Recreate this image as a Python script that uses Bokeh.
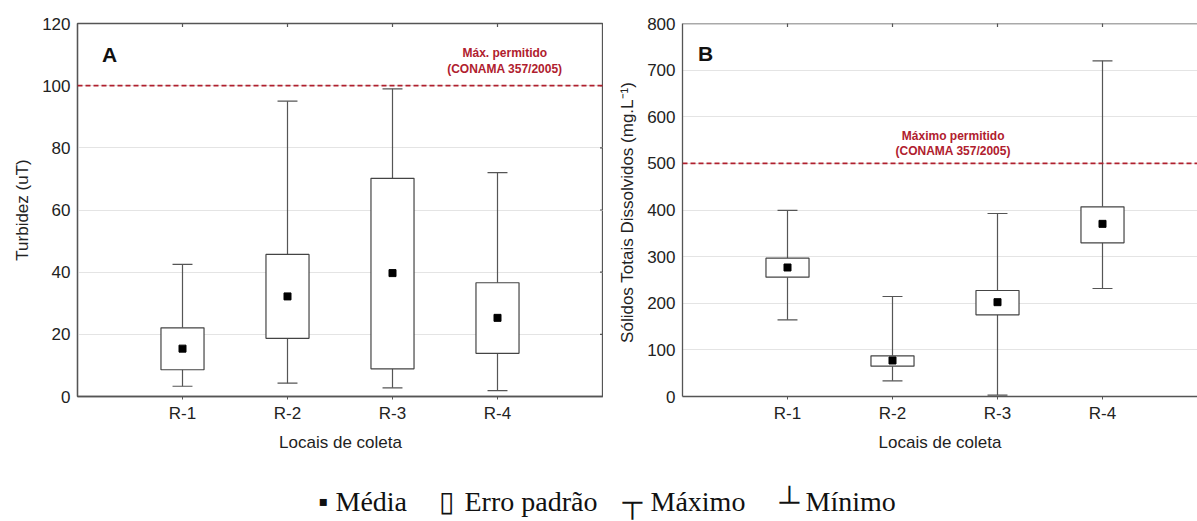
import math
from bokeh.plotting import figure
from bokeh.models import (ColumnDataSource, FixedTicker, Span, Label, Range1d)
from bokeh.layouts import column, row
from bokeh.core.properties import value
from bokeh.embed import file_html
from bokeh.resources import INLINE

# ---------------- data ----------------
sites = ["R-1", "R-2", "R-3", "R-4"]
site_pos = [1, 2, 3, 4]

turb_mean = [15.4, 32.2, 39.7, 25.3]
turb_se_low = [8.6, 18.7, 8.9, 13.9]
turb_se_high = [22.1, 45.7, 70.2, 36.6]
turb_min = [3.3, 4.3, 2.8, 1.9]
turb_max = [42.5, 95.0, 99.0, 72.0]
turb_limit = 100
turb_ticks = [0, 20, 40, 60, 80, 100, 120]

std_mean = [276.7, 77.2, 202.3, 370.3]
std_se_low = [255.9, 65.0, 175.2, 329.6]
std_se_high = [296.7, 87.2, 227.3, 406.9]
std_min = [164.5, 33.6, 3.0, 231.6]
std_max = [399.0, 214.5, 392.5, 720.0]
std_limit = 500
std_ticks = [0, 100, 200, 300, 400, 500, 600, 700, 800]

legend_symbols = ["▪", "▯", "┬", "┴"]
legend_labels = ["Média", "Erro padrão", "Máximo", "Mínimo"]

SANS = "Liberation Sans"
AXC = "#555555"
LIMC = "#b0202e"
BOXW = 0.41
CAPW = 0.19


def panel(width, height, border_left, xmax, yticks, ylabel,
          mean, lo, hi, mn, mx, limit, lim_text, lim_x, lim_y1, lim_y2,
          letter, letter_x, letter_y, outline=True):
    ymax = yticks[-1]
    p = figure(width=width, height=height, output_backend="svg", toolbar_location=None,
               x_range=Range1d(0, xmax), y_range=Range1d(0, ymax),
               min_border_left=border_left, min_border_right=0,
               min_border_top=23, min_border_bottom=64)
    p.background_fill_color = "white"
    p.border_fill_color = "white"
    p.outline_line_color = AXC if outline else None
    p.outline_line_width = 1.3
    p.xgrid.grid_line_color = None
    p.ygrid.grid_line_color = "#e4e4e4"
    p.ygrid.grid_line_width = 1

    # axes
    p.xaxis.ticker = FixedTicker(ticks=site_pos)
    p.xaxis.major_label_overrides = {pos: s for pos, s in zip(site_pos, sites)}
    p.yaxis.ticker = FixedTicker(ticks=yticks)
    for ax in (p.xaxis[0], p.yaxis[0]):
        ax.axis_line_color = AXC
        ax.axis_line_width = 1.3
        ax.major_tick_line_color = AXC
        ax.minor_tick_line_color = None
        ax.major_label_text_font = SANS
        ax.major_label_text_font_size = "17px"
        ax.major_label_text_color = "#222222"
        ax.axis_label_text_font = SANS
        ax.axis_label_text_font_size = "17px"
        ax.axis_label_text_font_style = "normal"
        ax.axis_label_text_color = "#222222"
    p.xaxis.major_tick_out = 3
    p.xaxis.major_tick_in = 0
    p.xaxis.major_label_standoff = 4
    p.xaxis.axis_label = "Locais de coleta"
    p.xaxis.axis_label_standoff = 7
    p.yaxis.major_tick_out = 0
    p.yaxis.major_tick_in = 0
    p.yaxis.major_label_standoff = 7
    p.yaxis.axis_label = ylabel
    p.yaxis.axis_label_standoff = 7

    # small inner ticks on the top edge (at the sites)
    p.scatter(x=site_pos, y=[ymax] * len(site_pos), marker="dash", angle=math.pi / 2,
              size=7, line_color=AXC, line_width=1.2)
    if outline:
        # small inner ticks on the right edge
        p.scatter(x=[xmax] * len(yticks), y=yticks, marker="dash",
                  size=7, line_color=AXC, line_width=1.2)
    else:
        p.add_layout(Span(location=ymax, dimension="width", line_color=AXC, line_width=1.3))

    # limit line
    p.add_layout(Span(location=limit, dimension="width", line_color=LIMC,
                      line_width=1.6, line_dash="5 3"))
    p.add_layout(Label(x=lim_x, y=lim_y1, text=lim_text[0], text_align="center",
                       text_baseline="middle", text_font=SANS, text_font_size="12px",
                       text_font_style="bold", text_color=LIMC))
    p.add_layout(Label(x=lim_x, y=lim_y2, text=lim_text[1], text_align="center",
                       text_baseline="middle", text_font=SANS, text_font_size="12px",
                       text_font_style="bold", text_color=LIMC))
    p.add_layout(Label(x=letter_x, y=letter_y, text=letter, text_align="center",
                       text_baseline="middle", text_font=SANS, text_font_size="21px",
                       text_font_style="bold", text_color="#111111"))

    src = ColumnDataSource(dict(x=site_pos, mean=mean, lo=lo, hi=hi, mn=mn, mx=mx,
                                xl=[x - CAPW / 2 for x in site_pos],
                                xr=[x + CAPW / 2 for x in site_pos]))
    # whiskers
    p.segment(x0="x", y0="hi", x1="x", y1="mx", source=src, line_color="#555555", line_width=1.2)
    p.segment(x0="x", y0="lo", x1="x", y1="mn", source=src, line_color="#555555", line_width=1.2)
    p.segment(x0="xl", y0="mx", x1="xr", y1="mx", source=src, line_color="#555555", line_width=1.2)
    p.segment(x0="xl", y0="mn", x1="xr", y1="mn", source=src, line_color="#555555", line_width=1.2)
    # boxes (standard error)
    p.vbar(x="x", width=BOXW, bottom="lo", top="hi", source=src, fill_color="white",
           line_color="#444444", line_width=1.2)
    # means
    p.scatter(x="x", y="mean", source=src, marker="square", size=7,
              fill_color="black", line_color="black")
    return p


pA = panel(603, 460, 77, 526 / 105, turb_ticks, "Turbidez (uT)",
           turb_mean, turb_se_low, turb_se_high, turb_min, turb_max, turb_limit,
           ["Máx. permitido", "(CONAMA 357/2005)"], 4.07, 110.5, 105.5,
           "A", 0.305, 110)

pB = panel(594, 460, 79, 515 / 105, std_ticks,
           "Sólidos Totais Dissolvidos  (mg.L⁻¹)",
           std_mean, std_se_low, std_se_high, std_min, std_max, std_limit,
           ["Máximo permitido", "(CONAMA 357/2005)"], 2.578, 558, 527.5,
           "B", 0.22, 735, outline=False)

# legend strip
pL = figure(width=1197, height=61, output_backend="svg", toolbar_location=None,
            x_range=Range1d(0, 1197), y_range=Range1d(0, 61),
            min_border=0)
pL.axis.visible = False
pL.grid.visible = False
pL.outline_line_color = None
pL.background_fill_color = "white"
pL.border_fill_color = "white"
pL.text(x=[318, 438, 622, 779], y=[20, 20, 20, 20], text=legend_symbols,
        text_font=value("Liberation Serif"), text_font_size="28px",
        text_baseline="alphabetic", text_color="#111111")
pL.text(x=[335, 464, 650, 805], y=[20, 20, 20, 20], text=legend_labels,
        text_font=value("Liberation Serif"), text_font_size="28px",
        text_baseline="alphabetic", text_color="#111111")

layout = column(row(pA, pB, spacing=0), pL, spacing=0)

open("out.html", "w").write(file_html(layout, INLINE))
